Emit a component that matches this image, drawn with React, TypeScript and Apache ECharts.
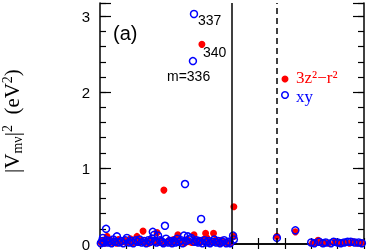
import React, { useEffect, useRef } from "react";
import * as echarts from "echarts";

const redLabel = "3z²−r²";
const blueLabel = "xy";

const redPoints: number[][] = [
  [0.04, 0.02], [0.1, 0.04], [0.18, 0.01], [0.27, 0.1], [0.33, 0.03], [0.4, 0.05],
  [0.48, 0.02], [0.55, 0.04], [0.62, 0.01], [0.7, 0.06], [0.78, 0.02], [0.85, 0.03],
  [0.92, 0.05], [1.0, 0.02], [1.08, 0.04], [1.15, 0.07], [1.22, 0.01], [1.3, 0.03],
  [1.4, 0.1], [1.47, 0.02], [1.55, 0.05], [1.63, 0.17], [1.7, 0.02], [1.78, 0.04],
  [1.85, 0.01], [1.92, 0.06], [2.02, 0.03], [2.1, 0.05], [2.16, 0.15], [2.24, 0.02],
  [2.3, 0.05], [2.38, 0.01], [2.42, 0.71], [2.55, 0.03], [2.62, 0.05], [2.7, 0.02],
  [2.78, 0.06], [2.86, 0.03], [2.95, 0.12], [3.02, 0.02], [3.1, 0.04], [3.2, 0.01],
  [3.3, 0.06], [3.4, 0.03], [3.48, 0.02], [3.56, 0.12], [3.64, 0.04], [3.72, 0.05],
  [3.8, 0.02], [3.86, 2.63], [3.92, 0.06], [4.0, 0.14], [4.05, 0.08], [4.12, 0.02],
  [4.2, 0.04], [4.3, 0.14], [4.37, 0.05], [4.43, 0.03], [4.52, 0.01], [4.6, 0.05],
  [4.7, 0.02], [4.78, 0.03], [4.85, 0.01], [4.95, 0.02], [5.07, 0.49], [5.07, 0.1],
  [6.7, 0.1], [7.4, 0.16], [8.05, 0.01], [8.18, 0.02], [8.26, 0.05], [8.4, 0.01],
  [8.5, 0.02], [8.65, 0.01], [8.9, 0.03], [9.05, 0.01], [9.2, 0.02], [9.3, 0.02],
  [9.45, 0.01], [9.6, 0.03], [9.75, 0.01], [9.9, 0.02],
];

const bluePoints: number[][] = [
  [0.03, 0.01], [0.08, 0.04], [0.11, 0.08], [0.15, 0.02], [0.23, 0.2], [0.25, 0.05],
  [0.3, 0.02], [0.37, 0.04], [0.44, 0.01], [0.5, 0.06], [0.57, 0.03], [0.64, 0.1],
  [0.72, 0.02], [0.8, 0.04], [0.88, 0.01], [0.95, 0.05], [1.02, 0.08], [1.1, 0.02],
  [1.18, 0.04], [1.26, 0.01], [1.35, 0.05], [1.43, 0.03], [1.5, 0.06], [1.58, 0.02],
  [1.67, 0.04], [1.75, 0.01], [1.83, 0.05], [1.9, 0.03], [1.97, 0.07], [2.0, 0.16],
  [2.05, 0.12], [2.08, 0.04], [2.14, 0.02], [2.2, 0.11], [2.27, 0.05], [2.35, 0.03],
  [2.4, 0.01], [2.46, 0.24], [2.5, 0.07], [2.58, 0.02], [2.65, 0.04], [2.73, 0.01],
  [2.8, 0.04], [2.86, 0.02], [2.92, 0.07], [3.0, 0.03], [3.07, 0.05], [3.13, 0.01],
  [3.18, 0.11], [3.22, 0.79], [3.26, 0.04], [3.33, 0.1], [3.4, 0.06], [3.45, 0.08],
  [3.52, 2.41], [3.56, 3.03], [3.58, 0.03], [3.65, 0.05], [3.72, 0.02], [3.78, 0.04],
  [3.83, 0.33], [3.88, 0.01], [3.96, 0.05], [4.03, 0.02], [4.1, 0.04], [4.17, 0.01],
  [4.25, 0.03], [4.33, 0.06], [4.4, 0.02], [4.48, 0.04], [4.55, 0.01], [4.63, 0.03],
  [4.7, 0.05], [4.78, 0.01], [4.86, 0.03], [4.93, 0.01], [5.04, 0.11], [5.07, 0.06],
  [6.7, 0.08], [7.4, 0.18], [8.0, 0.02], [8.12, 0.01], [8.3, 0.03], [8.45, 0.01],
  [8.55, 0.02], [8.75, 0.01], [8.85, 0.03], [9.0, 0.02], [9.12, 0.01], [9.25, 0.02],
  [9.38, 0.03], [9.5, 0.03], [9.65, 0.02], [9.8, 0.02], [9.92, 0.01],
];

const solidLineX = 5;
const dashedLineX = 6.7;
const yTicks = [0, 1, 2, 3];

export default function App() {
  const ref = useRef<HTMLDivElement>(null);
  useEffect(() => {
    if (!ref.current) return;
    const chart = echarts.init(ref.current, null, { renderer: "svg" });
    const X_MIN = 0, X_MAX = 10, Y_MIN = 0, Y_MAX = 3.175;
    const axisLine = { show: true, lineStyle: { color: "#000", width: 1.5 } };
    const xBase = (pos: string, len: number) => ({
      type: "value", position: pos, min: X_MIN, max: X_MAX, interval: 1,
      axisLine, axisTick: { show: true, inside: true, length: len, lineStyle: { color: "#000", width: 1.2 } },
      axisLabel: { show: false }, splitLine: { show: false },
    });
    const yMajor = (pos: string, labels: boolean) => ({
      type: "value", position: pos, min: Y_MIN, max: Y_MAX, interval: 1,
      axisLine,
      axisTick: { show: true, inside: true, length: 11, lineStyle: { color: "#000", width: 1.2 } },
      axisLabel: {
        show: labels, margin: 10, fontFamily: "Liberation Sans", fontSize: 15, color: "#000",
        formatter: (v: number) => (yTicks.indexOf(v) >= 0 ? String(v) : ""),
      },
      splitLine: { show: false },
    });
    const yMinor = (pos: string) => ({
      type: "value", position: pos, min: Y_MIN, max: Y_MAX, interval: 0.2,
      axisLine: { show: false },
      axisTick: { show: true, inside: true, length: 6, lineStyle: { color: "#000", width: 1.2 } },
      axisLabel: { show: false }, splitLine: { show: false },
    });
    chart.setOption({
      animation: false,
      grid: { left: 100, top: 3, width: 264, height: 241, containLabel: false },
      xAxis: [xBase("bottom", 6), xBase("top", 5)],
      yAxis: [yMajor("left", true), yMinor("left"), yMajor("right", false), yMinor("right")],
      series: [
        {
          name: redLabel, type: "scatter", xAxisIndex: 0, yAxisIndex: 0,
          data: redPoints, symbol: "circle", symbolSize: 7,
          itemStyle: { color: "#ff0000", opacity: 1 },
          markLine: {
            silent: true, symbol: "none", label: { show: false },
            data: [
              { xAxis: solidLineX, lineStyle: { color: "#000", width: 1.5, type: "solid" } },
              { xAxis: dashedLineX, lineStyle: { color: "#000", width: 1.5, type: [6, 4] } },
            ],
          },
        },
        {
          name: blueLabel, type: "scatter", xAxisIndex: 0, yAxisIndex: 0,
          data: bluePoints, symbol: "circle", symbolSize: 7,
          itemStyle: { color: "rgba(0,0,0,0)", borderColor: "#0000ff", borderWidth: 1.5, opacity: 1 },
        },
      ],
      graphic: [
        {
          type: "text", x: 12, y: 121, rotation: Math.PI / 2,
          style: {
            text: "{t||V}{sub|mν}{t||}{sup|2}{t|  (eV}{sup|2}{t|)}",
            align: "center", verticalAlign: "middle",
            rich: {
              t: { fontFamily: "Liberation Serif", fontSize: 21, fill: "#000", lineHeight: 24 },
              sub: { fontFamily: "Liberation Serif", fontSize: 14, fill: "#000", lineHeight: 13, verticalAlign: "bottom" },
              sup: { fontFamily: "Liberation Serif", fontSize: 14, fill: "#000", lineHeight: 13, verticalAlign: "top" },
            },
          },
        },
        {
          type: "text", x: 113, y: 33,
          style: { text: "(a)", fontFamily: "Liberation Sans", fontSize: 20, fill: "#000", verticalAlign: "middle" },
        },
        {
          type: "text", x: 198, y: 20,
          style: { text: "337", fontFamily: "Liberation Sans", fontSize: 14, fill: "#000", verticalAlign: "middle" },
        },
        {
          type: "text", x: 203, y: 52,
          style: { text: "340", fontFamily: "Liberation Sans", fontSize: 14, fill: "#000", verticalAlign: "middle" },
        },
        {
          type: "text", x: 167, y: 76,
          style: { text: "m=336", fontFamily: "Liberation Sans", fontSize: 14, fill: "#000", verticalAlign: "middle" },
        },
        { type: "circle", shape: { cx: 285, cy: 79, r: 3.5 }, style: { fill: "#ff0000" } },
        { type: "circle", shape: { cx: 285, cy: 95, r: 3.3 }, style: { fill: "none", stroke: "#0000ff", lineWidth: 1.5 } },
        {
          type: "text", x: 296, y: 77.5,
          style: { text: redLabel, fontFamily: "Liberation Serif", fontSize: 17, fill: "#ff0000", verticalAlign: "middle" },
        },
        {
          type: "text", x: 296, y: 96.5,
          style: { text: blueLabel, fontFamily: "Liberation Serif", fontSize: 17, fill: "#0000ff", verticalAlign: "middle" },
        },
      ],
    });
    return () => chart.dispose();
  }, []);
  return <div ref={ref} style={{ position: "fixed", left: 0, top: 0, width: 371, height: 252 }} />;
}
